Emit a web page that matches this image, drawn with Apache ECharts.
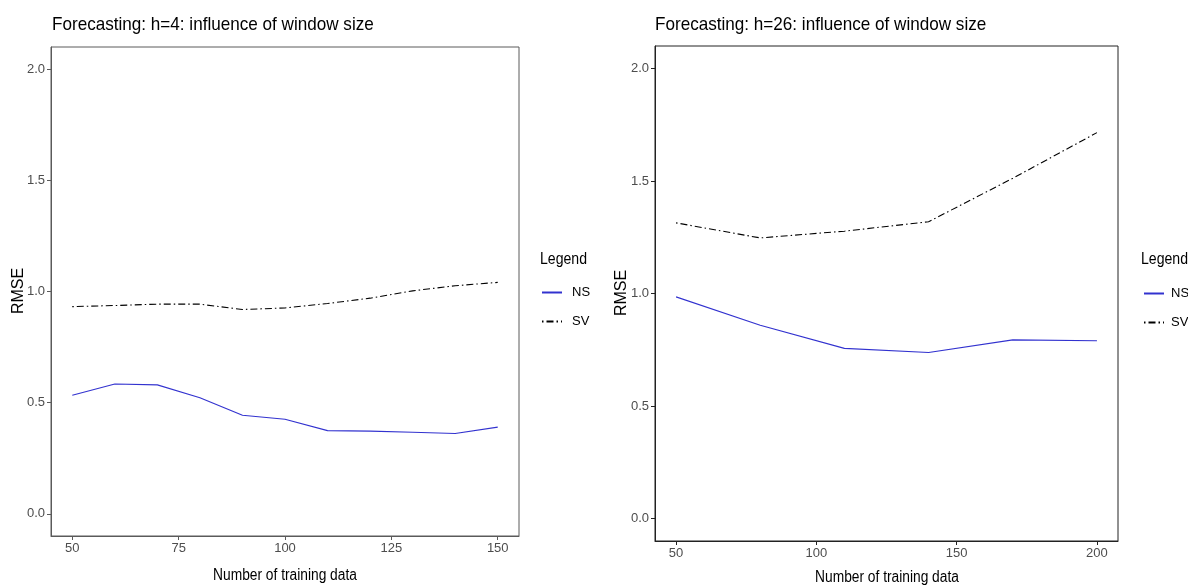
<!DOCTYPE html>
<html>
<head>
<meta charset="utf-8">
<script src="https://cdn.jsdelivr.net/npm/echarts@6/dist/echarts.min.js"></script>
<style>
html,body{margin:0;padding:0;background:#fff;}
#c{width:1188px;height:586px;}
</style>
</head>
<body>
<div id="c"></div>
<script>
// ---- data ----
var leftX  = [50, 60, 70, 80, 90, 100, 110, 120, 130, 140, 150];
var leftNS = [0.533, 0.584, 0.580, 0.522, 0.443, 0.425, 0.374, 0.372, 0.367, 0.361, 0.390];
var leftSV = [0.932, 0.937, 0.943, 0.943, 0.919, 0.926, 0.946, 0.970, 1.003, 1.026, 1.041];
var rightX  = [50, 80, 110, 140, 170, 200];
var rightNS = [0.985, 0.859, 0.756, 0.738, 0.794, 0.790];
var rightSV = [1.314, 1.247, 1.277, 1.319, 1.512, 1.715];
var leftXTicks  = [50, 75, 100, 125, 150];
var rightXTicks = [50, 100, 150, 200];
var yTicks = [0, 0.5, 1.0, 1.5, 2.0];
var seriesNames = ['NS', 'SV'];
var titles = ['Forecasting: h=4: influence of window size', 'Forecasting: h=26: influence of window size'];
var xName = 'Number of training data';
var yName = 'RMSE';
var legendTitle = 'Legend';

function pairs(xs, ys){ return xs.map(function(x,i){ return [x, ys[i]]; }); }

var FONT = "'Liberation Sans', Arial, sans-serif";
var NSColor = '#3232cf';
var SVDash = [1.5, 3, 7, 3];

function xAxisCfg(idx, min, max, ticks, col){
  return {
    type: 'value', gridIndex: idx, min: min, max: max,
    splitLine: {show: false},
    axisLine: {show: true, onZero: false, lineStyle: {color: col, width: 1}},
    axisTick: {show: true, length: 4, lineStyle: {color: col}, customValues: ticks},
    axisLabel: {color: '#4d4d4d', fontFamily: FONT, fontSize: 13, margin: 6, customValues: ticks}
  };
}
function yAxisCfg(idx, col){
  return {
    type: 'value', gridIndex: idx, min: -0.1, max: 2.1,
    splitLine: {show: false},
    axisLine: {show: true, onZero: false, lineStyle: {color: col, width: 1}},
    axisTick: {show: true, length: 4, lineStyle: {color: col}, customValues: yTicks},
    axisLabel: {color: '#4d4d4d', fontFamily: FONT, fontSize: 13, margin: 6, customValues: yTicks,
      formatter: function(v){ return v.toFixed(1); }}
  };
}
function lineSeries(name, xi, data, color, dash){
  return {
    type: 'line', name: name, xAxisIndex: xi, yAxisIndex: xi, data: data,
    showSymbol: false, symbol: 'none', smooth: false, silent: true,
    lineStyle: {color: color, width: 1.1, type: dash},
    itemStyle: {color: color}
  };
}
function txt(text, x, y, size, sx, opts){
  var st = {text: text, fill: '#000', font: 'normal ' + size + 'px ' + FONT,
            textAlign: (opts && opts.align) || 'left', textVerticalAlign: 'top'};
  return {type: 'text', x: x, y: y, scaleX: sx, rotation: (opts && opts.rot) || 0,
          style: st, silent: true};
}

var chart = echarts.init(document.getElementById('c'), null, {renderer: 'canvas'});
chart.setOption({
  animation: false,
  backgroundColor: '#fff',
  graphic: [
    txt(titles[0], 52, 15, 19, 0.9),
    txt(titles[1], 655, 15, 19, 0.9),
    txt(legendTitle, 540, 252, 16, 0.88),
    txt(legendTitle, 1141, 252, 16, 0.88),
    txt(xName, 285, 568, 16, 0.86, {align: 'center'}),
    txt(xName, 887, 570, 16, 0.86, {align: 'center'}),
    {type: 'text', x: 19, y: 291, rotation: Math.PI / 2, silent: true,
     style: {text: yName, fill: '#000', font: 'normal 16px ' + FONT, textAlign: 'center', textVerticalAlign: 'middle'}},
    {type: 'text', x: 622, y: 293, rotation: Math.PI / 2, silent: true,
     style: {text: yName, fill: '#000', font: 'normal 16px ' + FONT, textAlign: 'center', textVerticalAlign: 'middle'}}
  ],
  grid: [
    {left: 51, right: 669, top: 47, bottom: 50, show: true, borderColor: '#5a5a5a', borderWidth: 1, backgroundColor: 'transparent'},
    {left: 655, right: 70, top: 46, bottom: 45, show: true, borderColor: '#222', borderWidth: 1, backgroundColor: 'transparent'}
  ],
  legend: [
    {data: seriesNames, orient: 'vertical', left: 536, top: 281, itemWidth: 20, itemHeight: 14, itemGap: 16,
     itemStyle: {opacity: 0}, textStyle: {fontFamily: FONT, fontSize: 13, color: '#000', padding: [0, 0, 0, 5]}, selectedMode: false},
    {data: seriesNames, orient: 'vertical', left: 1138, top: 282, itemWidth: 20, itemHeight: 14, itemGap: 16,
     itemStyle: {opacity: 0}, textStyle: {fontFamily: FONT, fontSize: 13, color: '#000', padding: [0, 0, 0, 2]}, selectedMode: false}
  ],
  xAxis: [xAxisCfg(0, 45, 155, leftXTicks, '#5a5a5a'), xAxisCfg(1, 42.5, 207.5, rightXTicks, '#222')],
  yAxis: [yAxisCfg(0, '#5a5a5a'), yAxisCfg(1, '#222')],
  series: [
    lineSeries('NS', 0, pairs(leftX, leftNS), NSColor, 'solid'),
    lineSeries('SV', 0, pairs(leftX, leftSV), '#000', SVDash),
    lineSeries('NS', 1, pairs(rightX, rightNS), NSColor, 'solid'),
    lineSeries('SV', 1, pairs(rightX, rightSV), '#000', SVDash)
  ]
});
</script>
</body>
</html>
